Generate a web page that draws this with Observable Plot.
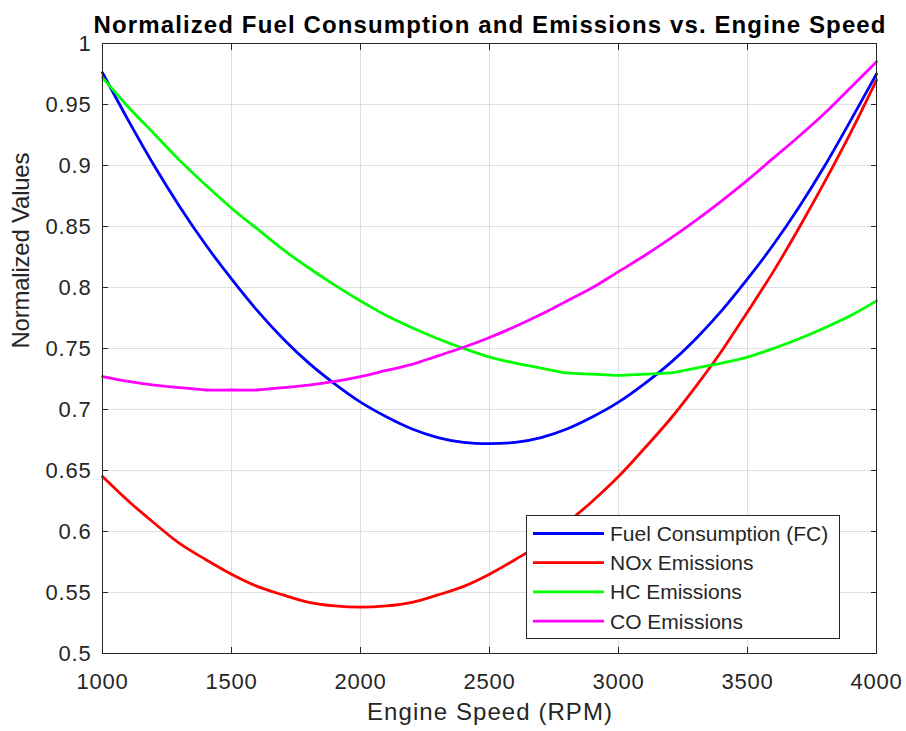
<!DOCTYPE html>
<html><head><meta charset="utf-8">
<script src="https://cdn.jsdelivr.net/npm/d3@7"></script>
<script src="https://cdn.jsdelivr.net/npm/@observablehq/plot@0.6"></script>
<style>html,body{margin:0;padding:0;background:#fff;} svg{display:block}</style>
</head><body><div id="chart"></div>
<script>
const rpm = [1000,1100,1200,1300,1400,1500,1600,1700,1800,1900,2000,2100,2200,2300,2400,2500,2600,2700,2800,2900,3000,3100,3200,3300,3400,3500,3600,3700,3800,3900,4000];
const fuelConsumption = [0.976,0.937,0.900,0.866,0.835,0.807,0.781,0.758,0.738,0.721,0.706,0.694,0.684,0.677,0.673,0.672,0.673,0.677,0.684,0.694,0.706,0.721,0.738,0.758,0.781,0.807,0.835,0.866,0.900,0.937,0.975];
const noxEmissions = [0.645,0.625,0.607,0.590,0.577,0.565,0.555,0.548,0.542,0.539,0.538,0.539,0.542,0.548,0.555,0.565,0.577,0.590,0.607,0.625,0.645,0.668,0.692,0.719,0.748,0.780,0.813,0.849,0.887,0.927,0.970];
const hcEmissions = [0.972,0.948,0.926,0.904,0.884,0.865,0.848,0.831,0.816,0.802,0.789,0.777,0.767,0.758,0.750,0.743,0.738,0.734,0.730,0.729,0.728,0.729,0.730,0.734,0.738,0.743,0.750,0.758,0.767,0.777,0.789];
const coEmissions = [0.727,0.723,0.720,0.718,0.716,0.716,0.716,0.718,0.720,0.723,0.727,0.732,0.737,0.744,0.751,0.759,0.768,0.778,0.789,0.800,0.813,0.826,0.840,0.855,0.871,0.888,0.906,0.924,0.943,0.964,0.985];
const seriesNames = ["Fuel Consumption (FC)","NOx Emissions","HC Emissions","CO Emissions"];
const seriesColors = ["#0000ff","#ff0000","#00ff00","#ff00ff"];
const xTicks = [1000,1500,2000,2500,3000,3500,4000];
const yTicks = [0.5,0.55,0.6,0.65,0.7,0.75,0.8,0.85,0.9,0.95,1];
const yTickLabels = ["0.5","0.55","0.6","0.65","0.7","0.75","0.8","0.85","0.9","0.95","1"];
const titleText = "Normalized Fuel Consumption and Emissions vs. Engine Speed";
const xLabel = "Engine Speed (RPM)";
const yLabel = "Normalized Values";

const seriesValues = [fuelConsumption, noxEmissions, hcEmissions, coEmissions];
const rows = seriesNames.flatMap((name, i) => rpm.map((r, j) => ({name, rpm: r, value: seriesValues[i][j]})));

const ink = "#262626";
const plot = Plot.plot({
  width: 906, height: 731,
  marginLeft: 102, marginRight: 30, marginTop: 43, marginBottom: 78,
  style: {fontFamily: "'Liberation Sans', Arial, sans-serif", color: ink, background: "#fff"},
  x: {domain: [1000, 4000]},
  y: {domain: [0.5, 1]},
  color: {domain: seriesNames, range: seriesColors},
  marks: [
    Plot.gridX(xTicks, {stroke: ink, strokeOpacity: 0.15, strokeWidth: 1}),
    Plot.gridY(yTicks, {stroke: ink, strokeOpacity: 0.15, strokeWidth: 1}),
    Plot.line(rows, {x: "rpm", y: "value", z: "name", stroke: "name", strokeWidth: 2.8, curve: "catmull-rom"}),
    Plot.frame({stroke: ink, strokeWidth: 1}),
    Plot.axisX(xTicks, {anchor: "bottom", tickSize: -6, tickFormat: () => "", label: null}),
    Plot.axisX(xTicks, {anchor: "top", tickSize: -6, tickFormat: () => "", label: null}),
    Plot.axisY(yTicks, {anchor: "left", tickSize: -6, tickFormat: () => "", label: null}),
    Plot.axisY(yTicks, {anchor: "right", tickSize: -6, tickFormat: () => "", label: null}),
    Plot.axisX(xTicks, {anchor: "bottom", tickSize: 0, tickPadding: 20, tickFormat: d => String(d), fontSize: 22, label: null}),
    Plot.axisY(yTicks, {anchor: "left", tickSize: 0, tickPadding: 11, tickFormat: d => yTickLabels[yTicks.indexOf(d)], fontSize: 22, label: null}),
    Plot.text([titleText], {frameAnchor: "top", dy: -28, fontSize: 24, fontWeight: "bold", fill: "#000"}),
    Plot.text([xLabel], {frameAnchor: "bottom", dy: 66, fontSize: 24, fill: ink}),
    Plot.text([yLabel], {frameAnchor: "left", dx: -81, rotate: -90, fontSize: 24, fill: ink})
  ]
});

const svg = d3.select(plot);
svg.selectAll("text").filter(function() { return this.textContent === titleText; })
  .attr("textLength", 792).attr("lengthAdjust", "spacing");
svg.selectAll("text").filter(function() { return this.textContent === xLabel; })
  .attr("textLength", 245).attr("lengthAdjust", "spacing");
svg.selectAll("text").filter(function() { return this.textContent === yLabel; })
  .attr("textLength", 196).attr("lengthAdjust", "spacing");
svg.selectAll("text").filter(function() { return xTicks.map(String).includes(this.textContent) || yTickLabels.includes(this.textContent); })
  .style("letter-spacing", "0.8px");

// legend
const lg = svg.append("g").attr("font-family", "'Liberation Sans', Arial, sans-serif").attr("font-size", 21).attr("text-anchor", "start");
lg.append("rect").attr("x", 526.5).attr("y", 515.5).attr("width", 313).attr("height", 123)
  .attr("fill", "#fff").attr("stroke", ink).attr("stroke-width", 1);
seriesNames.forEach((name, i) => {
  const cy = 533.5 + i * 29.2;
  lg.append("line").attr("x1", 533).attr("x2", 604).attr("y1", cy).attr("y2", cy)
    .attr("stroke", seriesColors[i]).attr("stroke-width", 2.8);
  lg.append("text").attr("x", 610).attr("y", cy).attr("dy", "0.36em").attr("text-anchor", "start").attr("fill", ink).text(name);
});

document.getElementById("chart").appendChild(plot);
</script>
</body></html>
